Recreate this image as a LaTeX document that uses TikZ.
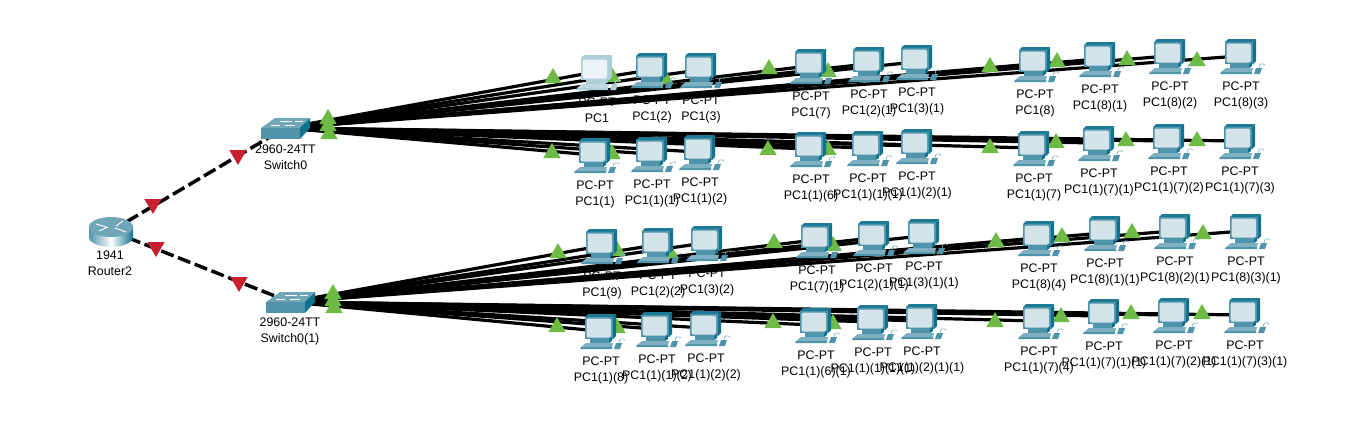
\documentclass[tikz,border=0pt]{standalone}
\usepackage{fontspec}
\setmainfont{Liberation Sans}
\usepackage{xcolor}
\usetikzlibrary{arrows.meta, positioning, shapes.geometric, calc}
\pgfdeclarelayer{front}
\pgfsetlayers{main,front}

\definecolor{pcframe}{HTML}{4F94AA}
\definecolor{pcdark}{HTML}{0F7390}
\definecolor{pcscreen}{HTML}{D3E3EA}
\definecolor{pcbase}{HTML}{7FB0C2}
\definecolor{swtop}{HTML}{6FA6B8}
\definecolor{linkgreen}{HTML}{6DBB45}
\definecolor{linkred}{HTML}{C8202F}

\tikzset{
    pcicon/.pic={
        \fill[pcdark] (14,-14) -- (17,-17) -- (17,5) -- (14,8) -- cycle;
        \fill[pcdark!80!pcframe] (-14,-14) -- (-11,-17) -- (17,-17) -- (14,-14) -- cycle;
        \fill[pcframe] (-14,-14) rectangle (14,8);
        \fill[pcscreen, rounded corners=1.5] (-12.5,-12.5) rectangle (12,6.5);
        \fill[pcframe] (-9,8) rectangle (10,12);
        \fill[pcdark] (10,8) -- (13,6) -- (13,10) -- (10,12) -- cycle;
        \fill[pcbase] (-13,12) -- (14,12) -- (13,16) -- (-18,16) -- cycle;
        \fill[pcframe] (-18,16) -- (13,16) -- (13,18) -- (-19,18) -- cycle;
        \fill[pcframe] (17,12) -- (23,12) -- (21,18) -- (15,18) -- cycle;
        \draw[pcbase, line width=0.5pt] (20,12) .. controls (20,7) and (24,7) .. (26,9);
    },
    swicon/.pic={
        \fill[swtop] (-24,0) -- (-10,-10) -- (25,-10) -- (15,0) -- cycle;
        \fill[pcframe] (-24,0) rectangle (15,11);
        \fill[pcdark] (15,0) -- (25,-10) -- (25,0) -- (15,11) -- cycle;
        \draw[white, line width=0.6pt] (-5,-7) -- (7,-7) (10,-7) -- (18,-7) (-14,-3) -- (-5,-3) (0,-3) -- (10,-3);
    },
    routericon/.pic={
        \shade[left color=pcframe, right color=pcdark, middle color=white] (-22,-4) -- (-22,6) arc[start angle=180, end angle=0, x radius=22, y radius=10] -- (22,-4) -- cycle;
        \fill[swtop] (0,-4) ellipse[x radius=22, y radius=10];
        \draw[white, line width=0.7pt] (-15,-7) -- (-5,-4) (5,-5) -- (12,-10) (-12,0) -- (-3,-4) (4,-3) -- (15,1);
    }
}

\newcommand{\pcdev}[3]{
    \node[pcnode] (#1) at (#2) {};
    \node[devlabel, below=9pt of #1.south, xshift=1.5pt] (#1lbl) {PC-PT\\#3};
    \begin{pgfonlayer}{front}
        \pic at (#1.center) {pcicon};
    \end{pgfonlayer}
}

\begin{document}
\begin{tikzpicture}[
    x=0.75pt, y=-0.75pt,
    pcnode/.style={rectangle, inner sep=0pt, minimum width=28pt, minimum height=20pt},
    devlabel/.style={inner sep=0pt, align=center, font=\fontsize{9.3}{12}\selectfont},
    devnode/.style={rectangle, inner sep=0pt, minimum width=30pt, minimum height=20pt},
    link/.style={line width=2.4pt, black},
    trunk/.style={line width=2.6pt, black, dash pattern=on 10pt off 3.5pt},
    upmark/.style={regular polygon, regular polygon sides=3, inner sep=0pt, minimum size=15pt, fill=linkgreen},
    downmark/.style={regular polygon, regular polygon sides=3, shape border rotate=180, inner sep=0pt, minimum size=15pt, fill=linkred}
]
    \useasboundingbox (0,0) rectangle (1352,437);

    % router and switches
    \node[devnode] (router) at (111,231) {};
    \node[devnode] (sw0) at (285,128) {};
    \node[devnode] (sw1) at (290,302) {};
    \node[devlabel] (routerlbl) at (110,263) {1941\\Router2};
    \node[devlabel] (sw0lbl) at (285.5,157) {2960-24TT\\Switch0};
    \node[devlabel] (sw1lbl) at (290,331) {2960-24TT\\Switch0(1)};
    \begin{pgfonlayer}{front}
        \pic at (router.center) {routericon};
        \pic at (sw0.center) {swicon};
        \pic at (sw1.center) {swicon};
    \end{pgfonlayer}

    % first row
    {\colorlet{pcframe}{pcframe!45!white}\colorlet{pcdark}{pcdark!35!white}\colorlet{pcscreen}{pcscreen!45!white}\colorlet{pcbase}{pcbase!50!white}
    \pcdev{pca1}{595,72}{PC1}}
    \pcdev{pca2}{650,70}{PC1(2)}
    \pcdev{pca3}{699,70}{PC1(3)}
    \pcdev{pca4}{809,66}{PC1(7)}
    \pcdev{pca5}{867,64}{PC1(2)(1)}
    \pcdev{pca6}{915,62}{PC1(3)(1)}
    \pcdev{pca7}{1033,64}{PC1(8)}
    \pcdev{pca8}{1098,59}{PC1(8)(1)}
    \pcdev{pca9}{1168,56}{PC1(8)(2)}
    \pcdev{pca10}{1239,56}{PC1(8)(3)}

    % second row
    \pcdev{pcb1}{593,155}{PC1(1)}
    \pcdev{pcb2}{650,154}{PC1(1)(1)}
    \pcdev{pcb3}{698,152}{PC1(1)(2)}
    \pcdev{pcb4}{809,149}{PC1(1)(6)}
    \pcdev{pcb5}{866,148}{PC1(1)(1)(1)}
    \pcdev{pcb6}{915,146}{PC1(1)(2)(1)}
    \pcdev{pcb7}{1032,148}{PC1(1)(7)}
    \pcdev{pcb8}{1097,143}{PC1(1)(7)(1)}
    \pcdev{pcb9}{1167,141}{PC1(1)(7)(2)}
    \pcdev{pcb10}{1238,141}{PC1(1)(7)(3)}

    % third row
    \pcdev{pcc1}{600,246}{PC1(9)}
    \pcdev{pcc2}{656,245}{PC1(2)(2)}
    \pcdev{pcc3}{705,243}{PC1(3)(2)}
    \pcdev{pcc4}{815,240}{PC1(7)(1)}
    \pcdev{pcc5}{872,238}{PC1(2)(1)(1)}
    \pcdev{pcc6}{922,236}{PC1(3)(1)(1)}
    \pcdev{pcc7}{1037,238}{PC1(8)(4)}
    \pcdev{pcc8}{1103,233}{PC1(8)(1)(1)}
    \pcdev{pcc9}{1173,231}{PC1(8)(2)(1)}
    \pcdev{pcc10}{1244,231}{PC1(8)(3)(1)}

    % fourth row
    \pcdev{pcd1}{599,331}{PC1(1)(8)}
    \pcdev{pcd2}{655,329}{PC1(1)(1)(2)}
    \pcdev{pcd3}{704,328}{PC1(1)(2)(2)}
    \pcdev{pcd4}{814,325}{PC1(1)(6)(1)}
    \pcdev{pcd5}{871,322}{PC1(1)(1)(1)(1)}
    \pcdev{pcd6}{920,321}{PC1(1)(2)(1)(1)}
    \pcdev{pcd7}{1037,321}{PC1(1)(7)(4)}
    \pcdev{pcd8}{1102,316}{PC1(1)(7)(1)(1)}
    \pcdev{pcd9}{1172,315}{PC1(1)(7)(2)(1)}
    \pcdev{pcd10}{1243,315}{PC1(1)(7)(3)(1)}

    % links
    \draw[trunk] (router.center) -- (sw0.center);
    \draw[trunk] (router.center) -- (sw1.center);
    \foreach \n in {1,...,10} {
        \draw[link] (sw0.center) -- (pca\n.center);
        \draw[link] (sw0.center) -- (pcb\n.center);
        \draw[link] (sw1.center) -- (pcc\n.center);
        \draw[link] (sw1.center) -- (pcd\n.center);
    }

    % link lights
    \node[downmark] (reda) at (238,155) {};
    \node[downmark] (redb) at (153,204) {};
    \node[downmark] (redc) at (156,247) {};
    \node[downmark] (redd) at (239,282) {};
    \foreach \px/\py [count=\i] in {553/78,612/77,665/79,769/69,828/72,990/67,1057/62,1127/60,1197/61,
        552/153,612/154,768/150,828/150,990/148,1056/143,1126/141,1197/141,
        558/253,617/251,670/253,774/243,833/246,996/242,1062/237,1132/233,1203/234,
        557/327,617/328,773/323,833/324,995/322,1061/317,1131/314,1202/314,
        328/119,328/126,329/134,333/294,333/301,334/308}
        \node[upmark] (lamp\i) at (\px,\py) {};
\end{tikzpicture}
\end{document}
